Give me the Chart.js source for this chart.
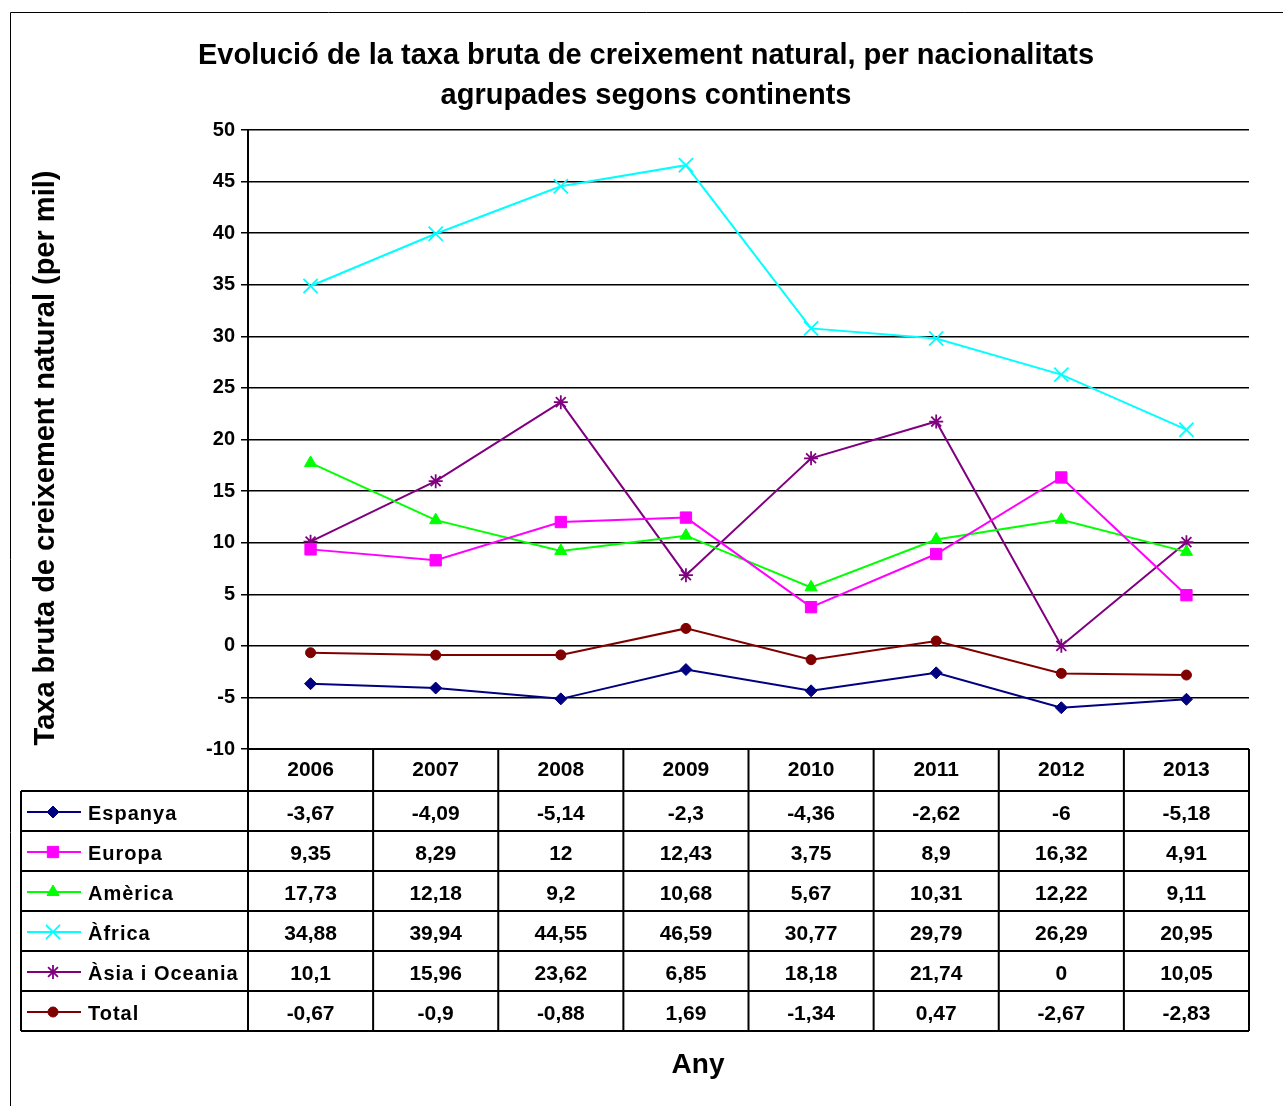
<!DOCTYPE html>
<html>
<head>
<meta charset="utf-8">
<script src="https://cdn.jsdelivr.net/npm/chart.js@4/dist/chart.umd.min.js"></script>
<style>
  body { margin: 0; background: #fff; }
  #wrap { width: 1283px; height: 1106px; }
</style>
</head>
<body>
<div id="wrap"><canvas id="chart" width="1283" height="1106"></canvas></div>
<script>
let years = ['2006', '2007', '2008', '2009', '2010', '2011', '2012', '2013'];
let espanya = [-3.67, -4.09, -5.14, -2.3, -4.36, -2.62, -6, -5.18];
let europa = [9.35, 8.29, 12, 12.43, 3.75, 8.9, 16.32, 4.91];
let america = [17.73, 12.18, 9.2, 10.68, 5.67, 10.31, 12.22, 9.11];
let africa = [34.88, 39.94, 44.55, 46.59, 30.77, 29.79, 26.29, 20.95];
let asia = [10.1, 15.96, 23.62, 6.85, 18.18, 21.74, 0, 10.05];
let total = [-0.67, -0.9, -0.88, 1.69, -1.34, 0.47, -2.67, -2.83];

let titleLines = ['Evolució de la taxa bruta de creixement natural, per nacionalitats', 'agrupades segons continents'];
let yTitle = 'Taxa bruta de creixement natural (per mil)';
let xTitle = 'Any';

const FONT = '"Liberation Sans", Arial, sans-serif';

let makeSeries = function(label, data, color, style, radius) {
    return {
        label: label,
        data: data,
        borderColor: color,
        backgroundColor: color,
        borderWidth: 2,
        pointStyle: style,
        pointRadius: radius,
        pointHoverRadius: radius,
        pointBorderWidth: (style == 'crossRot' || style == 'star') ? 1.8 : 1,
        pointBorderColor: color,
        pointBackgroundColor: color,
        tension: 0
    };
}

let datasets = [
    makeSeries('Espanya', espanya, '#000080', 'rectRot', 6),
    makeSeries('Europa', europa, '#ff00ff', 'rect', 8),
    makeSeries('Amèrica', america, '#00ff00', 'triangle', 7),
    makeSeries('Àfrica', africa, '#00ffff', 'crossRot', 10),
    makeSeries('Àsia i Oceania', asia, '#800080', 'star', 7),
    makeSeries('Total', total, '#800000', 'circle', 5),
];

let fmt = function(v) {
    return String(v).replace('.', ',');
}

// Excel style data table, frame and titles
let tablePlugin = {
    id: 'dataTable',
    beforeDraw: function(chart) {
        let ctx = chart.ctx;
        ctx.save();
        ctx.fillStyle = '#fff';
        ctx.fillRect(0, 0, chart.width, chart.height);
        ctx.strokeStyle = '#000';
        ctx.lineWidth = 1;
        ctx.beginPath();
        ctx.moveTo(10.5, chart.height);
        ctx.lineTo(10.5, 12.5);
        ctx.lineTo(chart.width, 12.5);
        ctx.stroke();
        ctx.restore();
    },
    afterDraw: function(chart) {
        let ctx = chart.ctx;
        let x = chart.scales.x;
        let area = chart.chartArea;
        let step = x.getPixelForValue(1) - x.getPixelForValue(0);
        let left = area.left, right = area.right;
        let top = area.bottom;
        let headH = 42, rowH = 40;
        let tableLeft = 21;
        let bottom = top + headH + rowH * datasets.length;

        ctx.save();
        // titles
        ctx.fillStyle = '#000';
        ctx.textAlign = 'center';
        ctx.textBaseline = 'middle';
        ctx.font = 'bold 29px ' + FONT;
        ctx.fillText(titleLines[0], 646, 56);
        ctx.fillText(titleLines[1], 646, 96);
        ctx.save();
        ctx.translate(46, 458);
        ctx.rotate(-Math.PI / 2);
        ctx.fillText(yTitle, 0, 0);
        ctx.restore();
        ctx.font = 'bold 28px ' + FONT;
        ctx.fillText(xTitle, 698, 1065);

        // grid of table
        ctx.strokeStyle = '#000';
        ctx.lineWidth = 2;
        ctx.beginPath();
        ctx.moveTo(left, top);
        ctx.lineTo(right, top);
        for (let r = 0; r <= datasets.length; r++) {
            let y = top + headH + r * rowH;
            ctx.moveTo(tableLeft, y);
            ctx.lineTo(right, y);
        }
        ctx.moveTo(tableLeft, top + headH);
        ctx.lineTo(tableLeft, bottom);
        for (let i = 0; i <= years.length; i++) {
            let xx = x.getPixelForValue(i) - step / 2;
            ctx.moveTo(xx, top);
            ctx.lineTo(xx, bottom);
        }
        ctx.stroke();

        // header
        ctx.font = 'bold 21px ' + FONT;
        ctx.textAlign = 'center';
        years.forEach((yr, i) => {
            ctx.fillText(yr, x.getPixelForValue(i), top + headH / 2);
        });

        // rows
        datasets.forEach((ds, r) => {
            let cy = top + headH + r * rowH + rowH / 2 + 3;
            ds.data.forEach((v, i) => {
                ctx.fillStyle = '#000';
                ctx.textAlign = 'center';
                ctx.fillText(fmt(v), x.getPixelForValue(i), cy);
            });
            // legend key
            ctx.strokeStyle = ds.borderColor;
            ctx.lineWidth = 2;
            ctx.beginPath();
            ctx.moveTo(27, cy - 2);
            ctx.lineTo(81, cy - 2);
            ctx.stroke();
            Chart.helpers.drawPoint(ctx, {
                pointStyle: ds.pointStyle,
                radius: ds.pointRadius,
                rotation: 0,
                borderWidth: ds.pointBorderWidth
            }, 53, cy - 2);
            ctx.fillStyle = '#000';
            ctx.textAlign = 'left';
            ctx.letterSpacing = '1px';
            ctx.font = 'bold 20px ' + FONT;
            ctx.fillText(ds.label, 88, cy);
            ctx.letterSpacing = '0px';
            ctx.font = 'bold 21px ' + FONT;
        });
        ctx.restore();
    }
};

// drawPoint reads colours from ctx, so set them before drawing each legend marker
let origDrawPoint = Chart.helpers.drawPoint;
Chart.helpers.drawPoint = function(ctx, opts, px, py) {
    ctx.save();
    ctx.fillStyle = ctx.strokeStyle;
    ctx.lineWidth = opts.borderWidth;
    origDrawPoint(ctx, opts, px, py);
    ctx.restore();
};

new Chart(document.getElementById('chart'), {
    type: 'line',
    data: { labels: years, datasets: datasets },
    options: {
        responsive: false,
        animation: false,
        layout: { padding: { top: 130, bottom: 357, left: 188, right: 34 } },
        plugins: {
            legend: { display: false },
            title: { display: false },
            tooltip: { enabled: false }
        },
        scales: {
            x: {
                display: false,
                offset: true
            },
            y: {
                min: -10,
                max: 50,
                afterFit: function(scale) { scale.width = 60; },
                ticks: {
                    stepSize: 5,
                    color: '#000',
                    padding: 6,
                    font: { family: FONT, size: 20, weight: 'bold' }
                },
                grid: {
                    color: '#000',
                    lineWidth: 1.5,
                    tickLength: 7,
                    drawTicks: true
                },
                border: { color: '#000', width: 2 }
            }
        }
    },
    plugins: [tablePlugin]
});
</script>
</body>
</html>
